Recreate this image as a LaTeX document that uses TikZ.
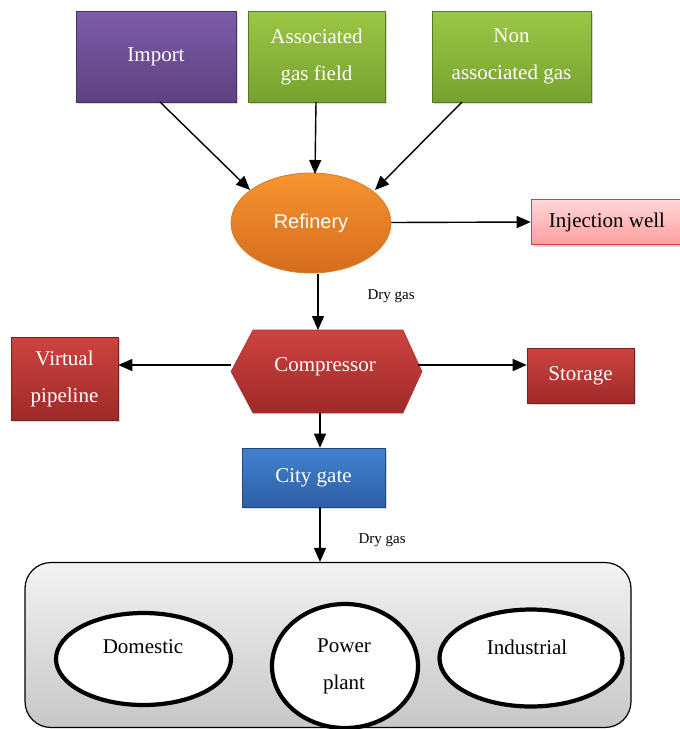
\documentclass[tikz,border=0pt]{standalone}
\usepackage{fontspec}
\setmainfont{Liberation Serif}
\newfontfamily\labelsans{Liberation Sans}
\usetikzlibrary{shapes.geometric,arrows.meta,shadows}
\begin{document}
\begin{tikzpicture}[x=1pt,y=-1pt,
  box/.style={draw=#1!75!black,line width=0.6pt,inner sep=0pt,
    drop shadow={shadow xshift=2pt,shadow yshift=-2pt,opacity=0.3},
    text=white,align=center,font=\fontsize{21}{37}\selectfont},
  flow/.style={-{Triangle[length=14pt,width=12pt]},line width=1.4pt},
  note/.style={font=\fontsize{15}{17}\selectfont,anchor=west},
  usebox/.style={ellipse,draw=black,line width=4.2pt,fill=white,inner sep=0pt},
  usetext/.style={align=center,font=\fontsize{21}{37}\selectfont}]
\useasboundingbox (0,0) rectangle (680,729);
\definecolor{purpT}{HTML}{7D5CAA}\definecolor{purpB}{HTML}{5E4180}
\definecolor{grnT}{HTML}{9DC746}\definecolor{grnB}{HTML}{76A12F}
\definecolor{orgT}{HTML}{F8942F}\definecolor{orgB}{HTML}{D56C1E}
\definecolor{redT}{HTML}{CD4340}\definecolor{redB}{HTML}{9E2A29}
\definecolor{bluT}{HTML}{4182CF}\definecolor{bluB}{HTML}{2E5FA6}
\definecolor{pnkT}{HTML}{FFD8D8}\definecolor{pnkB}{HTML}{FF9E9E}

% sources
\node[box=purpB,minimum width=160pt,minimum height=91pt,top color=purpT,bottom color=purpB]
  (imp) at (156,56.5) {Import};
\node[box=grnB,minimum width=137pt,minimum height=91pt,top color=grnT,bottom color=grnB]
  (ass) at (316.5,56.5) {Associated\\gas field};
\node[box=grnB,minimum width=159pt,minimum height=91pt,top color=grnT,bottom color=grnB]
  (non) at (511.5,56.5) {Non\\associated gas};

% refinery
\node[ellipse,draw=orgT!85!black,line width=0.8pt,minimum width=160pt,minimum height=100pt,
  top color=orgT,bottom color=orgB,text=white,font=\labelsans\fontsize{20}{24}\selectfont]
  (ref) at (311,223) {Refinery};
\node[box=redB,minimum width=152pt,minimum height=45pt,top color=pnkT,bottom color=pnkB,
  text=black,draw=redT] (inj) at (607,222) {Injection well};

% compressor: hexagonal outline with its label on top
\path[draw=redT!80!black,line width=0.6pt,top color=redT,bottom color=redB]
  (231,371.5) -- (253,330) -- (403,330) -- (422,371.5) -- (403,413) -- (253,413) -- cycle;
\node[text=white,font=\fontsize{21}{24}\selectfont,minimum width=190pt,minimum height=83pt]
  (cmp) at (326.5,371.5) {};
\node[text=white,font=\fontsize{21}{24}\selectfont] (cmplabel) at (325,367) {Compressor};

\node[box=redB,minimum width=107pt,minimum height=83pt,top color=redT,bottom color=redB]
  (vir) at (64.5,378.5) {Virtual\\pipeline};
\node[box=redB,minimum width=107pt,minimum height=55pt,top color=redT,bottom color=redB]
  (sto) at (580.5,375.5) {Storage};

% city gate
\node[box=bluB,minimum width=143pt,minimum height=59pt,top color=bluT,bottom color=bluB]
  (city) at (313.5,477.5) {City gate};

% consumers
\node[draw=black,line width=1.2pt,rounded corners=26pt,minimum width=606pt,minimum height=165pt,
  top color=black!5,bottom color=black!22] (cons) at (328,645) {};
\node[usebox,minimum width=175pt,minimum height=92pt] (dom) at (143.5,659) {};
\node[usetext] (domlabel) at (143,647) {Domestic};
\node[usebox,minimum width=146pt,minimum height=124pt] (pow) at (345,666) {};
\node[usetext] (powlabel) at (344,666) {Power\\plant};
\node[usebox,minimum width=183pt,minimum height=97pt] (ind) at (531,658) {};
\node[usetext] (indlabel) at (527,647) {Industrial};

% flows
\draw[flow] (160,102) -- (250,190);
\draw[flow] (316,102) -- (315,174);
\draw[flow] (462,102) -- (375,190);
\draw[flow] (ref.east) ++(0,-0.5) -- (inj.west);
\draw[flow] (318,274) -- (318,330);
\node[note] (dry1) at (364,296) {Dry gas};
\draw[flow] (cmp.west |- 0,365) -- (vir.east |- 0,365);
\draw[flow] (418,365) -- (sto.west |- 0,365);
\draw[flow] (320,413) -- (city.north -| 320,0);
\draw[flow] (city.south -| 320,0) -- (cons.north -| 320,0);
\node[note] (dry2) at (355,540) {Dry gas};
\end{tikzpicture}
\end{document}
